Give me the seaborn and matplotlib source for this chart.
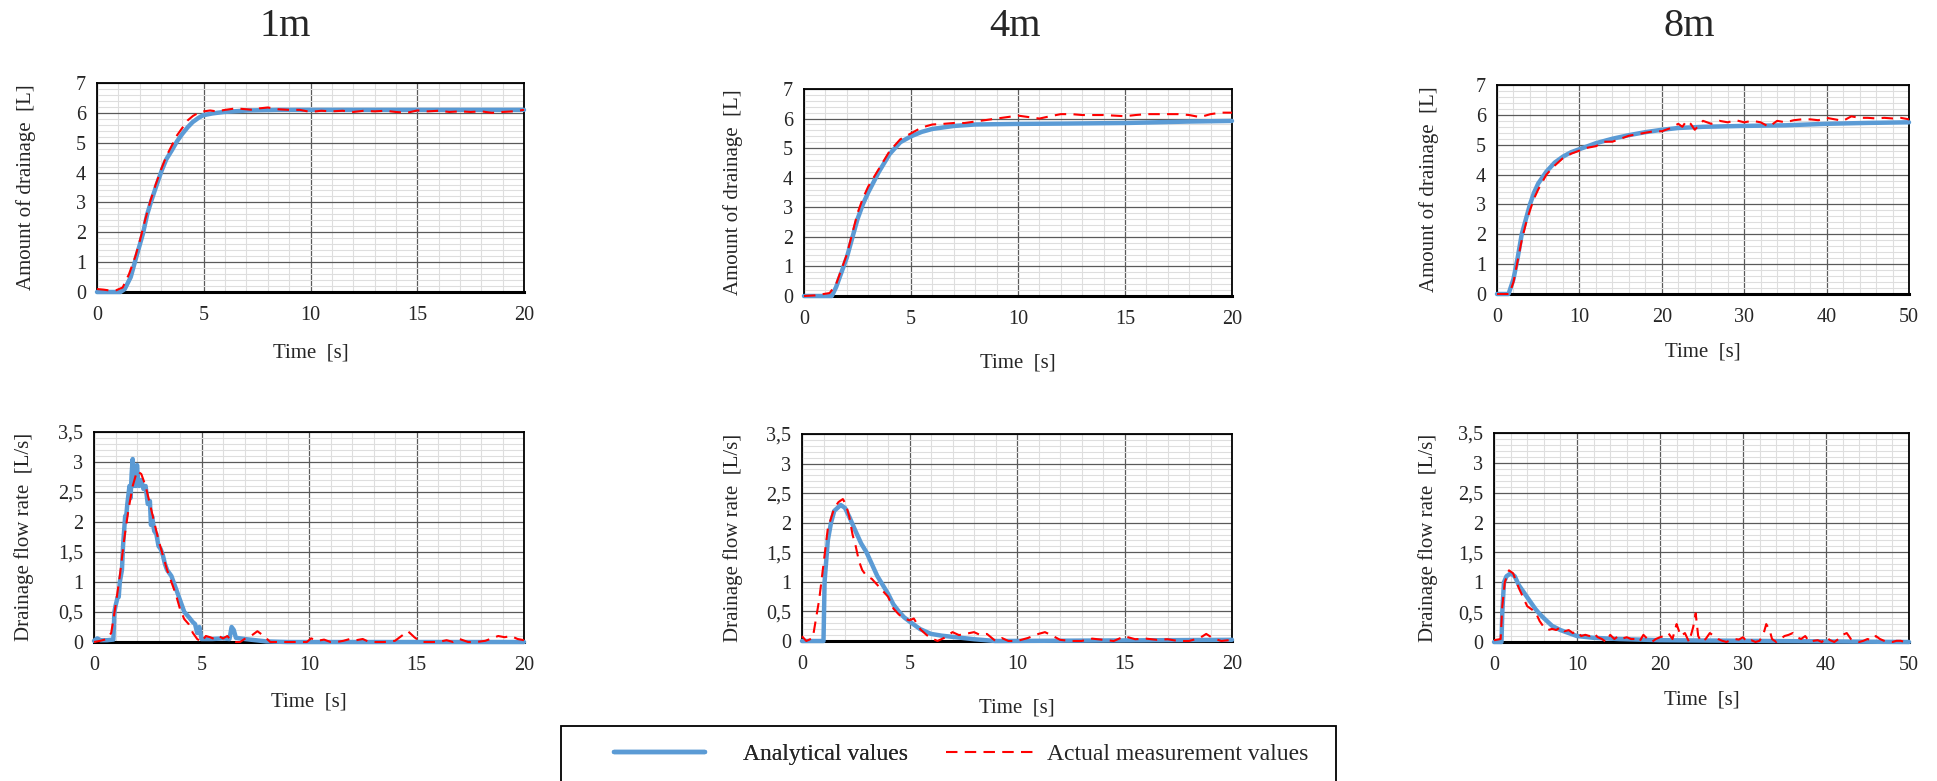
import numpy as np
import seaborn as sns
import matplotlib.pyplot as plt
from matplotlib.lines import Line2D
from matplotlib.patches import Rectangle
from matplotlib.ticker import MultipleLocator

# (time [s], value) pairs
vol_1m_analytical = [(0, 0), (1.1, 0), (1.3, 0.1), (1.58, 0.5), (1.85, 1.2), (2.15, 1.95), (2.35, 2.6),
                     (2.55, 3.07), (2.8, 3.6), (3.03, 4.07), (3.25, 4.45), (3.5, 4.74), (3.75, 5.05),
                     (4.0, 5.3), (4.25, 5.52), (4.48, 5.69), (4.75, 5.83), (4.97, 5.92), (5.4, 5.98),
                     (5.94, 6.03), (7.06, 6.08), (8.5, 6.1), (10, 6.1), (15, 6.1), (20, 6.1)]
vol_1m_measured = [(0, 0.1), (0.3, 0.08), (0.6, 0.05), (0.9, 0.06), (1.2, 0.15), (1.5, 0.6), (1.8, 1.2),
                   (2.0, 1.7), (2.25, 2.4), (2.5, 3.05), (2.75, 3.6), (3.0, 4.1), (3.25, 4.55), (3.5, 4.9),
                   (3.75, 5.25), (4.0, 5.5), (4.25, 5.75), (4.5, 5.9), (4.75, 6.0), (5.0, 6.05), (5.3, 6.08),
                   (5.6, 6.05), (6.0, 6.1), (6.5, 6.15), (7.0, 6.12), (7.3, 6.1), (7.6, 6.15), (8.0, 6.18),
                   (8.5, 6.12), (9.0, 6.1), (9.5, 6.1), (10.0, 6.03), (10.5, 6.07), (11.0, 6.05), (11.5, 6.07),
                   (12.0, 6.03), (12.5, 6.07), (13.0, 6.05), (13.5, 6.07), (14.0, 6.03), (14.5, 6.0),
                   (15.0, 6.08), (15.5, 6.05), (16.0, 6.07), (16.5, 6.03), (17.0, 6.05), (17.5, 6.03),
                   (18.0, 6.05), (18.5, 6.0), (19.0, 6.03), (19.5, 6.05), (20.0, 6.1)]

vol_4m_analytical = [(0, 0), (1.3, 0), (1.5, 0.3), (1.75, 0.8), (2.0, 1.3), (2.25, 1.95), (2.5, 2.6),
                     (2.75, 3.1), (3.0, 3.5), (3.25, 3.85), (3.5, 4.2), (3.75, 4.5), (4.0, 4.8), (4.25, 5.0),
                     (4.5, 5.2), (4.75, 5.3), (5.0, 5.4), (5.5, 5.55), (6.0, 5.65), (7.0, 5.75), (8.0, 5.8),
                     (10, 5.82), (12, 5.83), (15, 5.85), (18, 5.9), (20, 5.92)]
vol_4m_measured = [(0, 0), (0.5, 0.02), (1.2, 0.1), (1.5, 0.4), (1.75, 0.9), (2.0, 1.4), (2.25, 2.1),
                   (2.5, 2.8), (2.75, 3.3), (3.0, 3.7), (3.25, 4.0), (3.5, 4.3), (3.75, 4.6), (4.0, 4.9),
                   (4.25, 5.1), (4.5, 5.3), (4.75, 5.4), (5.0, 5.5), (5.5, 5.7), (6.0, 5.8), (6.5, 5.82),
                   (7.0, 5.85), (7.5, 5.85), (8.0, 5.9), (8.5, 5.95), (9.0, 6.0), (9.5, 6.05), (10.0, 6.1),
                   (10.5, 6.05), (11.0, 6.0), (11.5, 6.08), (12.0, 6.15), (12.5, 6.15), (13.0, 6.12),
                   (13.5, 6.12), (14.0, 6.12), (14.5, 6.1), (15.0, 6.08), (15.5, 6.12), (16.0, 6.15),
                   (16.5, 6.15), (17.0, 6.15), (17.5, 6.15), (18.0, 6.12), (18.5, 6.05), (19.0, 6.15),
                   (19.5, 6.2), (20.0, 6.2)]

vol_8m_analytical = [(0, 0), (1.4, 0), (2.0, 0.5), (2.5, 1.2), (3.0, 2.0), (3.5, 2.5), (4.0, 3.0), (4.5, 3.4),
                     (5.0, 3.7), (6.0, 4.1), (7.0, 4.4), (8.0, 4.6), (9.0, 4.75), (10, 4.85), (12, 5.05),
                     (14, 5.2), (16, 5.32), (18, 5.42), (20, 5.5), (22, 5.56), (25, 5.6), (30, 5.63),
                     (35, 5.65), (40, 5.7), (45, 5.73), (50, 5.75)]
vol_8m_measured = [(0, 0), (1.5, 0), (2.0, 0.4), (2.5, 1.1), (3.0, 1.8), (3.5, 2.35), (4.0, 2.8), (4.5, 3.2),
                   (5.0, 3.5), (6.0, 4.0), (7.0, 4.3), (8.0, 4.55), (9.0, 4.7), (10, 4.8), (11, 4.9),
                   (12, 4.95), (13, 5.1), (14, 5.1), (15, 5.2), (16, 5.3), (17, 5.35), (18, 5.4), (19, 5.45),
                   (20, 5.45), (21, 5.55), (22, 5.7), (22.5, 5.6), (23, 5.8), (23.5, 5.7), (24, 5.5),
                   (24.5, 5.65), (25, 5.8), (26, 5.7), (27, 5.8), (28, 5.75), (29, 5.82), (30, 5.75),
                   (31, 5.8), (32, 5.75), (33, 5.6), (34, 5.8), (35, 5.75), (36, 5.82), (37, 5.85),
                   (38, 5.85), (39, 5.82), (40, 5.9), (41, 5.85), (42, 5.8), (43, 5.95), (44, 5.9),
                   (45, 5.9), (46, 5.88), (47, 5.9), (48, 5.88), (49, 5.9), (50, 5.85)]

flow_1m_analytical = [(0, 0.02), (0.15, 0.06), (0.3, 0.03), (0.6, 0.03), (0.9, 0.04), (0.95, 0.5), (1.0, 0.6),
                      (1.1, 0.75), (1.15, 0.75), (1.2, 1.0), (1.3, 1.2), (1.35, 1.6), (1.45, 2.1), (1.5, 2.1),
                      (1.55, 2.3), (1.65, 2.6), (1.7, 2.4), (1.75, 2.8), (1.8, 3.05), (1.85, 2.6), (1.9, 2.8),
                      (1.95, 2.6), (2.0, 2.95), (2.05, 2.7), (2.1, 2.6), (2.2, 2.7), (2.3, 2.55), (2.4, 2.6),
                      (2.5, 2.3), (2.6, 2.35), (2.65, 1.95), (2.7, 2.1), (2.8, 1.85), (2.9, 1.8), (3.0, 1.6),
                      (3.1, 1.55), (3.2, 1.45), (3.3, 1.3), (3.4, 1.2), (3.5, 1.15), (3.6, 1.1), (3.7, 1.0),
                      (3.8, 0.9), (3.9, 0.8), (4.0, 0.7), (4.1, 0.6), (4.2, 0.5), (4.4, 0.42), (4.6, 0.33),
                      (4.7, 0.3), (4.8, 0.15), (4.9, 0.25), (5.0, 0.05), (5.5, 0.05), (6.0, 0.06), (6.3, 0.05),
                      (6.4, 0.25), (6.5, 0.2), (6.6, 0.07), (7.0, 0.05), (7.5, 0.03), (8.0, 0.01), (9.0, 0.0),
                      (20.0, 0.0)]
flow_1m_measured = [(0.0, 0.0), (0.3, 0.02), (0.6, 0.05), (0.8, 0.15), (1.0, 0.6), (1.2, 1.1), (1.4, 1.7),
                    (1.6, 2.2), (1.8, 2.6), (2.0, 2.85), (2.2, 2.8), (2.4, 2.6), (2.6, 2.3), (2.8, 2.0),
                    (3.0, 1.7), (3.2, 1.45), (3.4, 1.2), (3.6, 1.0), (3.8, 0.8), (4.0, 0.55), (4.2, 0.38),
                    (4.4, 0.3), (4.6, 0.15), (4.8, 0.05), (5.0, 0.0), (5.2, 0.1), (5.4, 0.08), (5.6, 0.05),
                    (5.8, 0.1), (6.0, 0.06), (6.2, 0.1), (6.4, 0.02), (6.6, 0.0), (6.8, 0.0), (7.0, 0.05),
                    (7.3, 0.1), (7.6, 0.18), (7.9, 0.1), (8.2, 0.0), (8.6, 0.0), (9.0, 0.0), (9.5, 0.0),
                    (9.9, 0.0), (10.1, 0.06), (10.4, 0.02), (10.7, 0.04), (11.0, 0.0), (11.3, 0.0),
                    (11.6, 0.02), (11.9, 0.05), (12.2, 0.03), (12.5, 0.05), (12.8, 0.0), (13.1, 0.0),
                    (13.5, 0.0), (14.0, 0.02), (14.3, 0.1), (14.6, 0.18), (14.9, 0.08), (15.2, 0.0),
                    (15.6, 0.0), (16.0, 0.0), (16.4, 0.03), (16.7, 0.0), (17.0, 0.05), (17.4, 0.0),
                    (17.8, 0.0), (18.2, 0.02), (18.5, 0.06), (18.8, 0.1), (19.1, 0.08), (19.4, 0.1),
                    (19.7, 0.05), (20.0, 0.03)]

flow_4m_analytical = [(0, 0), (1.0, 0), (1.05, 1.0), (1.2, 1.7), (1.35, 2.0), (1.5, 2.2), (1.8, 2.3),
                      (2.0, 2.25), (2.2, 2.1), (2.5, 1.85), (2.75, 1.65), (3.0, 1.5), (3.25, 1.3), (3.5, 1.1),
                      (3.75, 0.95), (4.0, 0.8), (4.25, 0.62), (4.5, 0.5), (4.75, 0.4), (5.0, 0.33), (5.5, 0.2),
                      (6.0, 0.12), (6.5, 0.09), (7.0, 0.07), (8.0, 0.03), (9.0, 0.0), (15, 0.01), (20, 0.02)]
flow_4m_measured = [(0, 0.08), (0.2, 0.0), (0.5, 0.05), (0.8, 0.7), (1.0, 1.3), (1.2, 1.9), (1.5, 2.25),
                    (1.7, 2.35), (1.9, 2.4), (2.05, 2.3), (2.2, 2.1), (2.35, 1.8), (2.5, 1.6), (2.65, 1.35),
                    (2.8, 1.2), (3.0, 1.1), (3.25, 1.05), (3.5, 0.95), (3.75, 0.85), (4.0, 0.75), (4.25, 0.55),
                    (4.5, 0.45), (4.75, 0.38), (5.0, 0.35), (5.2, 0.38), (5.5, 0.2), (5.8, 0.1), (6.0, 0.05),
                    (6.3, 0.0), (6.6, 0.05), (7.0, 0.15), (7.3, 0.1), (7.6, 0.12), (8.0, 0.15), (8.3, 0.1),
                    (8.6, 0.12), (9.0, 0.0), (9.3, 0.05), (9.6, 0.0), (10, 0.0), (10.5, 0.05), (11.0, 0.12),
                    (11.3, 0.15), (11.7, 0.08), (12.0, 0.02), (12.5, 0.0), (13.0, 0.0), (13.5, 0.04),
                    (14.0, 0.02), (14.5, 0.0), (15.0, 0.08), (15.5, 0.03), (16.0, 0.04), (16.5, 0.02),
                    (17.0, 0.03), (17.5, 0.0), (18.0, 0.0), (18.5, 0.05), (18.8, 0.12), (19.1, 0.05),
                    (19.5, 0.0), (20, 0.02)]

flow_8m_analytical = [(0, 0), (0.9, 0), (1.0, 0.5), (1.2, 1.0), (1.5, 1.1), (2.0, 1.15), (2.5, 1.1),
                      (3.0, 0.95), (3.5, 0.85), (4.0, 0.75), (4.5, 0.65), (5.0, 0.55), (5.5, 0.47), (6.0, 0.4),
                      (7.0, 0.27), (8.0, 0.2), (9.0, 0.15), (10, 0.1), (12, 0.07), (15, 0.05), (20, 0.03),
                      (30, 0.02), (40, 0.01), (50, 0.0)]
flow_8m_measured = [(0, 0.03), (0.8, 0.05), (1.0, 0.6), (1.3, 1.0), (1.8, 1.2), (2.3, 1.15), (3.0, 0.9),
                    (3.5, 0.75), (4.0, 0.6), (4.5, 0.55), (5.0, 0.5), (5.5, 0.35), (6.0, 0.25), (6.5, 0.2),
                    (7.0, 0.22), (7.5, 0.2), (8.0, 0.25), (8.5, 0.18), (9.0, 0.2), (9.5, 0.15), (10, 0.18),
                    (10.5, 0.1), (11, 0.12), (11.5, 0.1), (12, 0.15), (12.5, 0.08), (13, 0.05), (13.5, 0.0),
                    (14, 0.12), (14.5, 0.05), (15, 0.1), (15.5, 0.06), (16, 0.08), (16.5, 0.05), (17, 0.05),
                    (17.5, 0.0), (18, 0.12), (18.5, 0.05), (19, 0.0), (19.5, 0.05), (20, 0.08), (20.5, 0.1),
                    (21, 0.15), (21.5, 0.05), (22, 0.3), (22.5, 0.1), (23, 0.15), (23.5, 0.0), (24, 0.25),
                    (24.3, 0.48), (24.6, 0.1), (25, 0.0), (25.5, 0.05), (26, 0.15), (26.5, 0.1), (27, 0.05),
                    (27.5, 0.02), (28, 0.0), (28.5, 0.03), (29, 0.05), (29.5, 0.04), (30, 0.08), (30.5, 0.0),
                    (31, 0.03), (31.5, 0.0), (32, 0.02), (32.5, 0.15), (32.8, 0.3), (33.2, 0.2), (33.5, 0.05),
                    (34, 0.0), (34.5, 0.05), (35, 0.1), (35.5, 0.12), (36, 0.15), (36.5, 0.08), (37, 0.05),
                    (37.5, 0.1), (38, 0.0), (38.5, 0.02), (39, 0.03), (39.5, 0.0), (40, 0.08), (40.5, 0.03),
                    (41, 0.0), (41.5, 0.05), (42, 0.12), (42.5, 0.15), (43, 0.05), (43.5, 0.03), (44, 0.0),
                    (44.5, 0.02), (45, 0.05), (45.5, 0.03), (46, 0.1), (46.5, 0.05), (47, 0.02), (47.5, 0.0),
                    (48, 0.0), (48.5, 0.02), (49, 0.02), (49.5, 0.0), (50, 0.05)]

column_titles = ["1m", "4m", "8m"]
vol_ticklabels = ["0", "1", "2", "3", "4", "5", "6", "7"]
flow_ticklabels = ["0", "0,5", "1", "1,5", "2", "2,5", "3", "3,5"]
legend_labels = ["Analytical values", "Actual measurement values"]

BLUE = "#5B9BD5"
RED = "#FF0000"
DASH = (0, (5.5, 3.5))
W, H = 1937, 781

sns.set_style("white")
plt.rcParams["font.family"] = ["Liberation Serif", "DejaVu Serif"]

fig = plt.figure(figsize=(W / 100, H / 100), dpi=100)

# pixel boxes (left, top, right, bottom), label centre x, xlabel centre y
panels = [
    dict(box=(97, 83, 524, 292), data=(vol_1m_analytical, vol_1m_measured), xmax=20, kind="vol",
         ylab_x=26, xlab_y=353),
    dict(box=(804, 89, 1232, 296), data=(vol_4m_analytical, vol_4m_measured), xmax=20, kind="vol",
         ylab_x=733, xlab_y=363),
    dict(box=(1497, 85, 1909, 294), data=(vol_8m_analytical, vol_8m_measured), xmax=50, kind="vol",
         ylab_x=1429, xlab_y=352),
    dict(box=(94, 432, 524, 642), data=(flow_1m_analytical, flow_1m_measured), xmax=20, kind="flow",
         ylab_x=24, xlab_y=702),
    dict(box=(802, 434, 1232, 641), data=(flow_4m_analytical, flow_4m_measured), xmax=20, kind="flow",
         ylab_x=733, xlab_y=708),
    dict(box=(1494, 433, 1909, 642), data=(flow_8m_analytical, flow_8m_measured), xmax=50, kind="flow",
         ylab_x=1428, xlab_y=700),
]

for p in panels:
    l, t, r, b = p["box"]
    ax = fig.add_axes([l / W, 1 - b / H, (r - l) / W, (b - t) / H])

    ana = np.array(p["data"][0], dtype=float)
    mea = np.array(p["data"][1], dtype=float)
    sns.lineplot(x=ana[:, 0], y=ana[:, 1], ax=ax, color=BLUE, linewidth=3.2, clip_on=False, zorder=3)
    sns.lineplot(x=mea[:, 0], y=mea[:, 1], ax=ax, color=RED, linewidth=1.5, linestyle=DASH,
                 clip_on=False, zorder=4)

    xmax = p["xmax"]
    ax.set_xlim(0, xmax)
    xstep = 5 if xmax == 20 else 10
    ax.xaxis.set_minor_locator(MultipleLocator(xstep / 5))
    ax.set_xticks(np.arange(0, xmax + 1, xstep))
    ax.set_xticklabels([str(v) for v in range(0, xmax + 1, xstep)])

    if p["kind"] == "vol":
        ax.set_ylim(0, 7)
        ax.set_yticks(np.arange(0, 8, 1))
        ax.set_yticklabels(vol_ticklabels)
        ax.yaxis.set_minor_locator(MultipleLocator(0.2))
        ylabel = "Amount of drainage  [L]"
    else:
        ax.set_ylim(0, 3.5)
        ax.set_yticks(np.arange(0, 3.6, 0.5))
        ax.set_yticklabels(flow_ticklabels)
        ax.yaxis.set_minor_locator(MultipleLocator(0.1))
        ylabel = "Drainage flow rate  [L/s]"

    ax.grid(which="major", color="#5a5a5a", linewidth=0.9)
    ax.grid(which="minor", color="#dedede", linewidth=0.8)
    ax.set_axisbelow(True)
    ax.tick_params(which="both", length=0, labelsize=14.5)
    ax.tick_params(axis="y", pad=8)
    ax.tick_params(axis="x", pad=10)
    for s in ax.spines.values():
        s.set_visible(True)
        s.set_color("black")
        s.set_linewidth(1.3)
    ax.spines["bottom"].set_linewidth(2.2)

    ax.set_ylabel(ylabel, fontsize=15, va="center")
    ax.yaxis.set_label_coords((p["ylab_x"] - l) / (r - l), 0.5)
    ax.set_xlabel("Time  [s]", fontsize=15, va="center")
    ax.xaxis.set_label_coords(0.5, -(p["xlab_y"] - b) / (b - t))

for title, cx in zip(column_titles, [285, 1015, 1689]):
    fig.text(cx / W, 1 - 27 / H, title, fontsize=29, ha="center", va="center")

# legend box running off the bottom edge
fig.add_artist(Rectangle((561 / W, -0.02), (1336 - 561) / W, (781 - 726) / H + 0.02,
                         transform=fig.transFigure, fill=False, edgecolor="black", linewidth=1.3))
h_blue = Line2D([], [], color=BLUE, linewidth=3.2)
h_red = Line2D([], [], color=RED, linewidth=1.5, linestyle=DASH)
leg1 = fig.legend([h_blue], [legend_labels[0]], loc="center left", bbox_to_anchor=(593 / W, 1 - 754 / H),
                  frameon=False, fontsize=17, handlelength=3.85, handletextpad=1.6)
fig.legend([h_red], [legend_labels[1]], loc="center left", bbox_to_anchor=(925 / W, 1 - 754 / H),
           frameon=False, fontsize=17, handlelength=3.85, handletextpad=0.4)
fig.add_artist(leg1)

fig.savefig("out.png", dpi=100, facecolor="white")
